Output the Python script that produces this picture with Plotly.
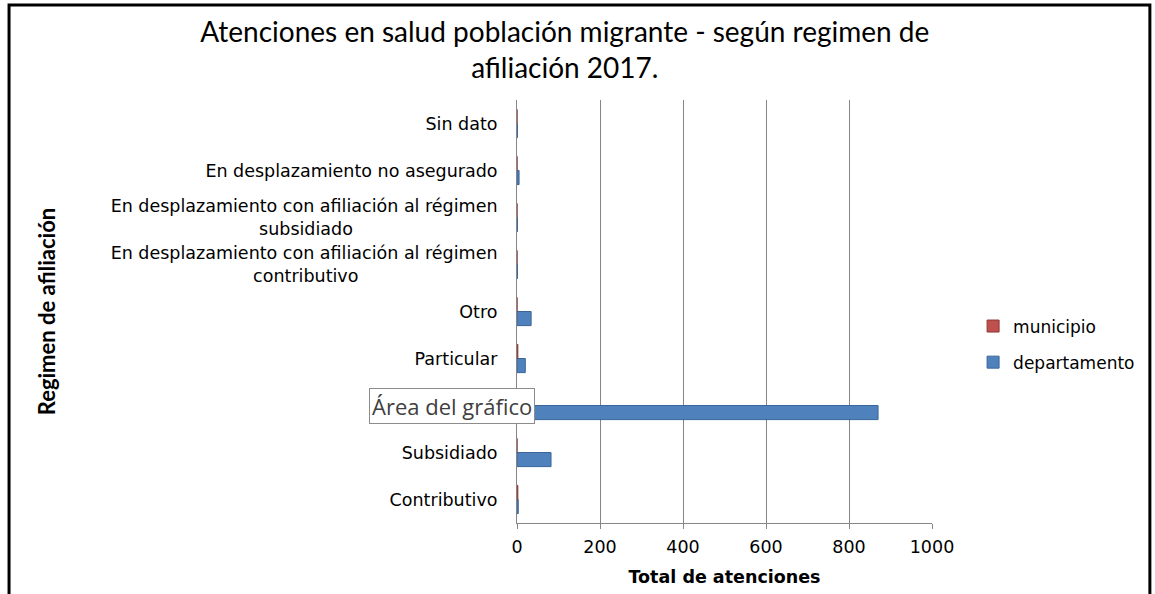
import plotly.graph_objects as go

categories = [
    "Contributivo",
    "Subsidiado",
    "No asegurado",
    "Particular",
    "Otro",
    "En desplazamiento con afiliación al régimen contributivo",
    "En desplazamiento con afiliación al régimen subsidiado",
    "En desplazamiento no asegurado",
    "Sin dato",
]
tick_labels = [
    "Contributivo",
    "Subsidiado",
    "No asegurado",
    "Particular",
    "Otro",
    "En desplazamiento con afiliación al régimen<br>contributivo" + "\u00a0" * 25,
    "En desplazamiento con afiliación al régimen<br>subsidiado" + "\u00a0" * 26,
    "En desplazamiento no asegurado",
    "Sin dato",
]
departamento = [3, 82, 870, 20, 34, 1, 1, 5, 1]
municipio = [2, 0, 0, 2, 0, 0, 0, 0, 0]
x_ticks = [0, 200, 400, 600, 800, 1000]

TICK_FONT = "DejaVu Sans, Verdana, sans-serif"
HUMAN = "Lato, Open Sans, sans-serif"

fig = go.Figure()
fig.add_trace(go.Bar(
    y=categories, x=departamento, orientation="h", name="departamento",
    legendrank=2, legendgroup="dep",
    marker=dict(color="#4F81BD", line=dict(color="#3A6599", width=1)),
))
fig.add_trace(go.Bar(
    y=categories, x=municipio, orientation="h", name="municipio",
    legendrank=1, legendgroup="mun",
    marker=dict(color="#C0504D", line=dict(color="#8C3836", width=1)),
))

fig.update_layout(
    width=1155, height=594,
    paper_bgcolor="white", plot_bgcolor="white",
    margin=dict(l=517, r=223, t=100, b=71, autoexpand=False),
    barmode="group", bargap=0.4, bargroupgap=0,
    title=dict(
        text="Atenciones en salud población migrante - según regimen de<br>afiliación 2017.",
        x=0.489, xref="container", xanchor="center",
        y=1 - 42 / 594, yref="container", yanchor="top",
        font=dict(family=HUMAN, size=28, color="#000000"),
    ),
    xaxis=dict(
        range=[0, 1000], tickvals=x_ticks, ticktext=[str(v) for v in x_ticks],
        showgrid=True, gridcolor="#868686", gridwidth=1,
        showline=True, linecolor="#868686", linewidth=1,
        ticks="outside", ticklen=5, tickcolor="#868686",
        ticklabelstandoff=3,
        tickfont=dict(family=TICK_FONT, size=17.5, color="#000000"),
        title=dict(text="<b>Total de atenciones</b>", standoff=14,
                   font=dict(family=TICK_FONT, size=17.5, color="#000000")),
        zeroline=False, fixedrange=True,
    ),
    yaxis=dict(
        categoryorder="array", categoryarray=categories,
        tickvals=categories, ticktext=tick_labels,
        showgrid=False, showline=True, linecolor="#868686", linewidth=1,
        ticks="", ticklabelstandoff=15,
        tickfont=dict(family=TICK_FONT, size=17.5, color="#000000"),
        title=dict(text="<b>Regimen de afiliación</b>", standoff=48,
                   font=dict(family=HUMAN, size=22, color="#000000")),
        fixedrange=True,
    ),
    legend=dict(
        x=1.099, xref="paper", xanchor="left", y=0.422, yanchor="middle",
        traceorder="grouped", tracegroupgap=11,
        font=dict(family=TICK_FONT, size=17, color="#000000"),
        itemwidth=30, bgcolor="rgba(0,0,0,0)",
    ),
    showlegend=True,
)

# Outer frame of the original image
fig.add_shape(type="rect", xref="paper", yref="paper",
              x0=-1.224, x1=1.525, y0=-0.3, y1=1.2246,
              line=dict(color="#000000", width=3), layer="below")

# Tooltip visible in the original screenshot
fig.add_annotation(
    x=-0.157, xref="paper", y="No asegurado", yref="y",
    text="Área del gráfico", showarrow=False,
    font=dict(family="Open Sans, sans-serif", size=22, color="#404040"),
    bgcolor="white", bordercolor="#8C8C8C", borderwidth=1, borderpad=2,
    xanchor="center", yanchor="middle",
)

fig.write_html("out.html", config={"displayModeBar": False},
               post_script="document.body.style.margin='0';")
